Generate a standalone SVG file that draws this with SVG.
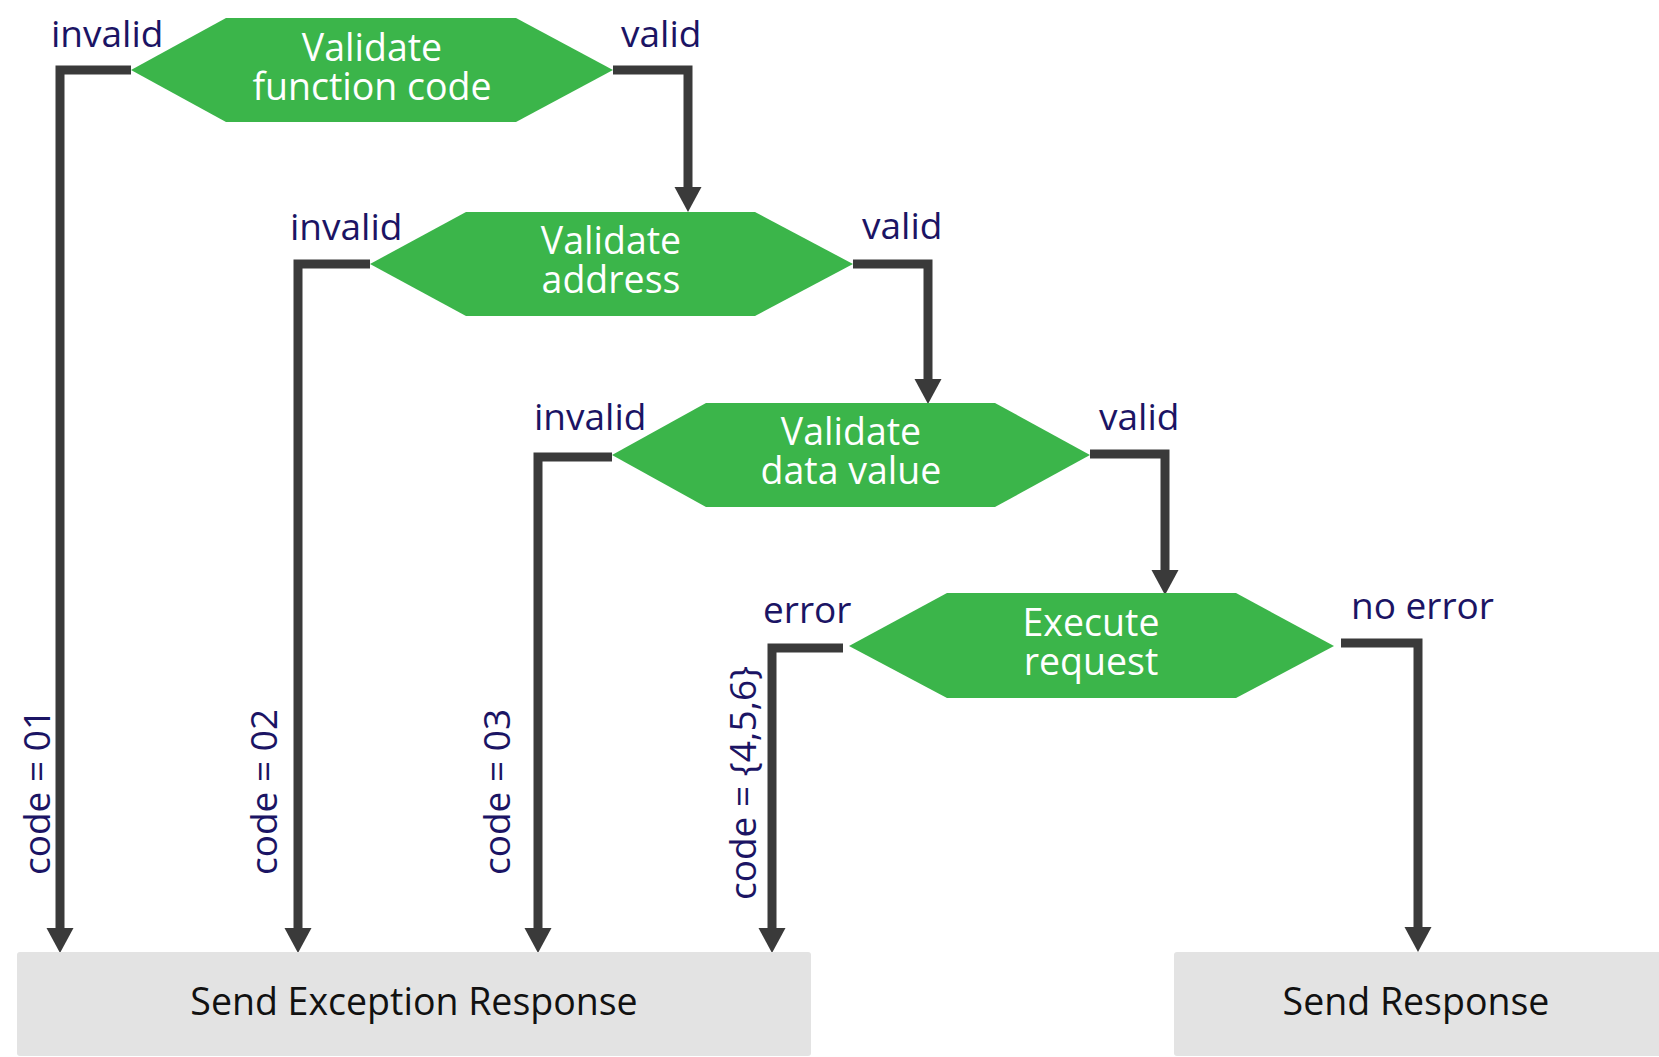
<svg xmlns="http://www.w3.org/2000/svg" width="1659" height="1057" viewBox="0 0 1659 1057">
  <style>
    .hex { fill: #3bb54a; }
    .hex-text { font-family: "Open Sans", "Noto Sans", "DejaVu Sans", sans-serif; font-size: 37.5px; fill: #ffffff; text-anchor: middle; }
    .label { font-family: "Open Sans", "Noto Sans", "DejaVu Sans", sans-serif; font-size: 37px; fill: #1b1464; }
    .code { font-family: "Open Sans", "Noto Sans", "DejaVu Sans", sans-serif; font-size: 37px; fill: #1b1464; }
    .box { fill: #e3e3e3; }
    .box-text { font-family: "Open Sans", "Noto Sans", "DejaVu Sans", sans-serif; font-size: 37.5px; fill: #111111; text-anchor: middle; }
    .conn { fill: none; stroke: #3a3a3a; stroke-width: 9; stroke-linejoin: miter; stroke-linecap: butt; marker-end: url(#arrow); }
  </style>
  <defs>
    <marker id="arrow" markerUnits="userSpaceOnUse" viewBox="0 -14 26 28" markerWidth="26" markerHeight="28" refX="2" refY="0" orient="auto">
      <path d="M0,-13.5 L25,0 L0,13.5 Z" fill="#3a3a3a"/>
    </marker>
  </defs>
  <rect width="1659" height="1057" fill="#ffffff"/>

  <g id="connectors">
    <path class="conn" d="M131,70 H60 V930"/>
    <path class="conn" d="M613,70 H688 V189"/>
    <path class="conn" d="M370,264 H298 V930"/>
    <path class="conn" d="M853,264 H928 V381"/>
    <path class="conn" d="M612,457 H538 V930"/>
    <path class="conn" d="M1090,454 H1165 V572"/>
    <path class="conn" d="M843,648 H772 V930"/>
    <path class="conn" d="M1341,643 H1418 V929"/>
  </g>

  <g id="labels">
    <text class="label" x="51" y="47">invalid</text>
    <text class="label" x="621" y="47">valid</text>
    <text class="label" x="290" y="240">invalid</text>
    <text class="label" x="862" y="239">valid</text>
    <text class="label" x="534" y="430">invalid</text>
    <text class="label" x="1099" y="430">valid</text>
    <text class="label" x="763" y="623">error</text>
    <text class="label" x="1351" y="619">no error</text>
    <text class="code" x="50" y="875" transform="rotate(-90 50 875)">code = 01</text>
    <text class="code" x="277" y="875" transform="rotate(-90 277 875)">code = 02</text>
    <text class="code" x="510" y="875" transform="rotate(-90 510 875)">code = 03</text>
    <text class="code" x="756" y="900" transform="rotate(-90 756 900)">code = {4,5,6}</text>
  </g>

  <g id="validate-function-code">
    <polygon class="hex" points="131,70 226,18 516,18 613,70 516,122 226,122"/>
    <text class="hex-text" x="372" y="61">Validate<tspan x="372" dy="39">function code</tspan></text>
  </g>

  <g id="validate-address">
    <polygon class="hex" points="370,264 466,212 755,212 853,264 755,316 466,316"/>
    <text class="hex-text" x="611" y="254">Validate<tspan x="611" dy="39">address</tspan></text>
  </g>

  <g id="validate-data-value">
    <polygon class="hex" points="612,455 706,403 995,403 1090,455 995,507 706,507"/>
    <text class="hex-text" x="851" y="445">Validate<tspan x="851" dy="39">data value</tspan></text>
  </g>

  <g id="execute-request">
    <polygon class="hex" points="849,646 947,593 1236,593 1334,646 1236,698 947,698"/>
    <text class="hex-text" x="1091" y="636">Execute<tspan x="1091" dy="39">request</tspan></text>
  </g>

  <g id="send-exception-response">
    <rect class="box" x="17" y="952" width="794" height="104" rx="3"/>
    <text class="box-text" x="414" y="1015">Send Exception Response</text>
  </g>

  <g id="send-response">
    <rect class="box" x="1174" y="952" width="490" height="104" rx="3"/>
    <text class="box-text" x="1416" y="1015">Send Response</text>
  </g>
</svg>
